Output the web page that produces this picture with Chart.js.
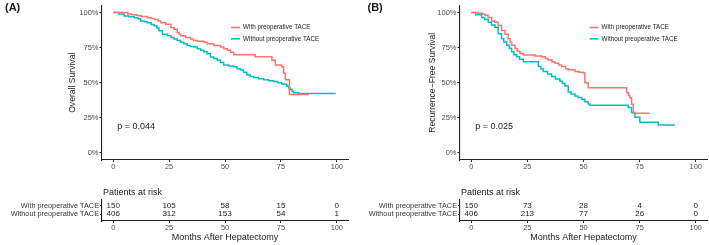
<!DOCTYPE html>
<html lang="en">
<head>
  <meta charset="UTF-8">
  <title>Survival by preoperative TACE</title>
  <script src="https://cdn.jsdelivr.net/npm/chart.js"></script>
  <style>
    body { margin: 0; background: #fff; width: 709px; height: 245px; position: relative; overflow: hidden; }
    canvas { position: absolute; display: block; }
  </style>
</head>
<body>
  <canvas id="kmA" width="355" height="172" style="left:0;top:0"></canvas>
  <canvas id="kmB" width="354" height="172" style="left:355px;top:0"></canvas>
  <canvas id="riskA" width="355" height="70" style="left:0;top:175px"></canvas>
  <canvas id="riskB" width="354" height="70" style="left:355px;top:175px"></canvas>

  <script>
    const groups = ['With preoperative TACE', 'Without preoperative TACE'];
    const monthTicks = [0, 25, 50, 75, 100];
    const survTicks = [0, 0.25, 0.5, 0.75, 1];

    // (A) overall survival, step points
    const osWithTime = [0, 6.5, 8, 10.5, 12.5, 15.3, 17, 18.5, 20, 21.3, 23.5, 25.8, 27.2, 28.6, 29.5, 30.2, 32.4, 34.6, 36, 37.8, 40.5, 42, 45, 48, 49.5, 51, 52.5, 53.9, 63.5, 71, 72.5, 75.4, 76.2, 77, 78.8, 87.5];
    const osWithSurv = [1, 0.99, 0.985, 0.978, 0.972, 0.963, 0.957, 0.951, 0.94, 0.928, 0.916, 0.893, 0.881, 0.858, 0.845, 0.835, 0.823, 0.812, 0.8, 0.795, 0.789, 0.777, 0.765, 0.754, 0.742, 0.731, 0.718, 0.70, 0.685, 0.66, 0.626, 0.614, 0.567, 0.521, 0.417, 0.417];
    const osWithoutTime = [0, 2.5, 4.9, 7, 9.4, 11, 12.3, 14, 15.3, 17, 18.3, 19.5, 20.5, 22, 24.2, 25.8, 27.2, 28.6, 30.1, 31.6, 33.1, 34.5, 36.1, 37.6, 39.1, 40.5, 42, 43.5, 45, 46.5, 48, 49.4, 51.7, 53.9, 55.4, 56.9, 58.3, 59.8, 61.3, 62.8, 65, 67.3, 69.5, 71.7, 73.5, 75.4, 77.6, 78.5, 79.2, 80, 80.6, 82.9, 99.5];
    const osWithoutSurv = [1, 0.99, 0.975, 0.97, 0.963, 0.955, 0.94, 0.935, 0.928, 0.915, 0.905, 0.89, 0.87, 0.846, 0.835, 0.823, 0.812, 0.8, 0.789, 0.777, 0.765, 0.758, 0.754, 0.742, 0.731, 0.72, 0.707, 0.684, 0.672, 0.661, 0.645, 0.626, 0.619, 0.614, 0.6, 0.591, 0.575, 0.556, 0.545, 0.537, 0.528, 0.521, 0.515, 0.509, 0.5, 0.491, 0.475, 0.462, 0.452, 0.44, 0.428, 0.424, 0.424];

    // (B) recurrence-free survival
    const rfsWithTime = [0, 3, 5, 6.1, 7.5, 9.1, 10.5, 12, 13.5, 15, 16.5, 17.3, 18, 19.5, 20.5, 21.7, 23.3, 28.4, 31.4, 33, 34.3, 36, 37.3, 39, 40.3, 42, 43.2, 46.2, 48, 49.9, 50.6, 52.1, 69.2, 70, 70.7, 71.4, 72.2, 79.6];
    const rfsWithSurv = [1, 0.995, 0.988, 0.98, 0.965, 0.94, 0.93, 0.907, 0.872, 0.845, 0.813, 0.79, 0.767, 0.743, 0.725, 0.708, 0.697, 0.69, 0.685, 0.672, 0.662, 0.65, 0.638, 0.627, 0.615, 0.6, 0.592, 0.58, 0.575, 0.569, 0.50, 0.464, 0.429, 0.41, 0.394, 0.347, 0.282, 0.282];
    const rfsWithoutTime = [0, 2, 4.6, 6, 7.6, 9, 10.6, 12, 13.5, 14.5, 15.8, 17, 18, 19, 20.2, 21.5, 23.2, 29.9, 31, 32.1, 34, 35.8, 37.5, 39.5, 40.6, 41.7, 43.2, 44.5, 46.2, 47.5, 49.2, 50.6, 52.1, 52.9, 69.9, 71.4, 72.9, 75.1, 83.3, 90.7];
    const rfsWithoutSurv = [1, 0.985, 0.965, 0.95, 0.93, 0.912, 0.895, 0.848, 0.813, 0.79, 0.767, 0.745, 0.72, 0.70, 0.685, 0.668, 0.65, 0.615, 0.598, 0.58, 0.563, 0.545, 0.527, 0.51, 0.495, 0.476, 0.434, 0.42, 0.406, 0.395, 0.382, 0.365, 0.348, 0.34, 0.324, 0.289, 0.254, 0.219, 0.20, 0.20];

    // numbers at risk at monthTicks
    const osRiskWith = [150, 105, 58, 15, 0];
    const osRiskWithout = [406, 312, 153, 54, 1];
    const rfsRiskWith = [150, 73, 28, 4, 0];
    const rfsRiskWithout = [406, 213, 77, 26, 0];

    const RED = '#F8766D';
    const CYAN = '#00BFC4';
    const AXIS = '#222222';
    const FAMILY = '"Liberation Sans", Arial, sans-serif';

    Chart.defaults.font.family = FAMILY;
    Chart.defaults.animation = false;

    // legend, p value and panel tag inside the survival plots
    const kmExtras = {
      id: 'kmExtras',
      afterDatasetsDraw(chart, args, o) {
        const { ctx, scales: { x, y } } = chart;
        ctx.save();
        ctx.textAlign = 'left';
        ctx.textBaseline = 'middle';
        chart.data.datasets.forEach((ds, i) => {
          const lx = x.getPixelForValue(o.legendX);
          const ly = y.getPixelForValue(o.legendY[i]);
          ctx.strokeStyle = ds.borderColor;
          ctx.lineWidth = 1.6;
          ctx.beginPath();
          ctx.moveTo(lx, ly);
          ctx.lineTo(lx + 9, ly);
          ctx.stroke();
          ctx.fillStyle = '#1a1a1a';
          ctx.font = '6.3px ' + FAMILY;
          ctx.fillText(ds.label, lx + 12, ly);
        });
        ctx.fillStyle = '#1a1a1a';
        ctx.font = '9px ' + FAMILY;
        ctx.fillText(o.pText, x.getPixelForValue(o.pX), y.getPixelForValue(o.pY));
        ctx.font = 'bold 11px ' + FAMILY;
        ctx.fillText(o.tag, o.tagX, 8);
        ctx.restore();
      }
    };

    // numbers at risk drawn at the scatter points, plus the table heading
    const riskText = {
      id: 'riskText',
      afterDatasetsDraw(chart) {
        const { ctx, chartArea } = chart;
        ctx.save();
        ctx.fillStyle = '#1a1a1a';
        ctx.textAlign = 'center';
        ctx.textBaseline = 'middle';
        ctx.font = '8px ' + FAMILY;
        chart.data.datasets.forEach((ds, i) => {
          chart.getDatasetMeta(i).data.forEach((pt, j) => {
            ctx.fillText(String(ds.data[j].n), pt.x, pt.y);
          });
        });
        ctx.textAlign = 'left';
        ctx.font = '9px ' + FAMILY;
        ctx.fillText('Patients at risk', chartArea.left + 1, chartArea.top - 7);
        ctx.restore();
      }
    };

    function steps(times, surv) {
      return times.map((t, i) => ({ x: t, y: surv[i] }));
    }

    function monthAxis(height, title) {
      return {
        type: 'linear',
        min: -5,
        max: 105,
        afterBuildTicks: s => { s.ticks = monthTicks.map(v => ({ value: v })); },
        afterFit: s => { s.height = height; },
        grid: { drawOnChartArea: false, tickLength: 2, color: AXIS },
        border: { color: AXIS, width: 1.1 },
        ticks: { color: '#4d4d4d', font: { size: 7.4 }, padding: 0.5, maxRotation: 0, autoSkip: false },
        title: title ? { display: true, text: title, color: '#1a1a1a', font: { size: 9 }, padding: { top: 0, bottom: 1.6 } } : { display: false }
      };
    }

    function kmChart(id, cfg) {
      return new Chart(document.getElementById(id), {
        type: 'line',
        data: {
          datasets: [
            { label: groups[0], data: steps(cfg.withTime, cfg.withSurv), borderColor: RED },
            { label: groups[1], data: steps(cfg.withoutTime, cfg.withoutSurv), borderColor: CYAN }
          ].map(d => Object.assign(d, { stepped: 'before', borderWidth: 1.5, pointRadius: 0, fill: false }))
        },
        options: {
          responsive: false,
          layout: { padding: { left: cfg.padLeft, right: cfg.padRight, top: 3, bottom: 0 } },
          plugins: {
            legend: { display: false },
            tooltip: { enabled: false },
            kmExtras: { legendX: 52.7, legendY: [0.893, 0.813], pText: cfg.pText, pX: 1.8, pY: 0.19, tag: cfg.tag, tagX: cfg.tagX }
          },
          scales: {
            x: monthAxis(12, null),
            y: {
              min: -0.05,
              max: 1.05,
              afterBuildTicks: s => { s.ticks = survTicks.map(v => ({ value: v })); },
              afterFit: s => { s.width = cfg.yWidth; },
              grid: { drawOnChartArea: false, tickLength: 2.5, color: AXIS },
              border: { color: AXIS, width: 1.1 },
              ticks: { color: '#4d4d4d', font: { size: 7.5 }, padding: 1, autoSkip: false, callback: v => Math.round(v * 100) + '%' },
              title: { display: true, text: cfg.yTitle, color: '#1a1a1a', font: { size: 8.6 }, padding: 0 }
            }
          }
        },
        plugins: [kmExtras]
      });
    }

    function riskChart(id, cfg) {
      const rows = [cfg.with, cfg.without];
      return new Chart(document.getElementById(id), {
        type: 'scatter',
        data: {
          datasets: rows.map((vals, i) => ({
            label: groups[i],
            data: monthTicks.map((m, j) => ({ x: m, y: 2 - i, n: vals[j] })),
            pointRadius: 0,
            showLine: false
          }))
        },
        options: {
          responsive: false,
          layout: { padding: { left: 0, right: cfg.padRight, top: 25, bottom: 0 } },
          plugins: { legend: { display: false }, tooltip: { enabled: false } },
          scales: {
            x: monthAxis(24, 'Months After Hepatectomy'),
            y: {
              min: 0.15,
              max: 2.7,
              afterBuildTicks: s => { s.ticks = [2, 1].map(v => ({ value: v })); },
              afterFit: s => { s.width = cfg.yWidth; },
              grid: { drawOnChartArea: false, tickLength: 2, color: AXIS },
              border: { color: AXIS, width: 1.1 },
              ticks: { color: '#333', font: { size: 7.3 }, padding: 1, autoSkip: false, callback: v => (v === 2 ? groups[0] : groups[1]) }
            }
          }
        },
        plugins: [riskText]
      });
    }

    kmChart('kmA', {
      withTime: osWithTime, withSurv: osWithSurv,
      withoutTime: osWithoutTime, withoutSurv: osWithoutSurv,
      yTitle: 'Overall Survival', pText: 'p = 0.044',
      tag: '(A)', tagX: 5, padLeft: 67, yWidth: 35, padRight: 7
    });
    kmChart('kmB', {
      withTime: rfsWithTime, withSurv: rfsWithSurv,
      withoutTime: rfsWithoutTime, withoutSurv: rfsWithoutSurv,
      yTitle: 'Recurrence\u2212Free Survival', pText: 'p = 0.025',
      tag: '(B)', tagX: 12.5, padLeft: 72, yWidth: 33, padRight: 2
    });
    riskChart('riskA', { with: osRiskWith, without: osRiskWithout, yWidth: 102, padRight: 7 });
    riskChart('riskB', { with: rfsRiskWith, without: rfsRiskWithout, yWidth: 105, padRight: 2 });
  </script>
</body>
</html>
